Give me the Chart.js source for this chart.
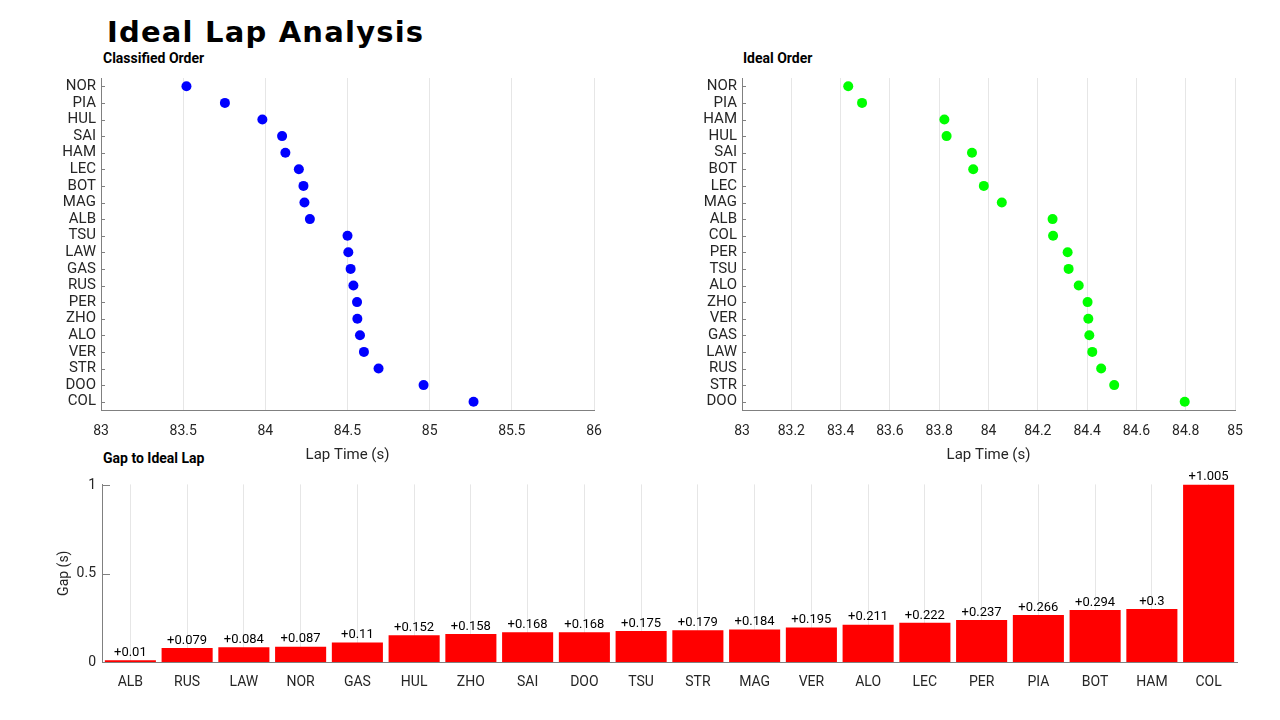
<!DOCTYPE html>
<html>
<head>
<meta charset="utf-8">
<script src="https://cdn.jsdelivr.net/npm/chart.js@4.4.0/dist/chart.umd.min.js"></script>
<style>
  body { margin: 0; width: 1280px; height: 720px; background: #fff; position: relative; overflow: hidden; font-family: Roboto, sans-serif; }
  canvas { position: absolute; }
  .title { position: absolute; left: 107px; top: 15px; font: bold 29px "DejaVu Sans"; letter-spacing: 1.2px; color: #000; }
  .sub { position: absolute; font: bold 14px Roboto; color: #000; line-height: 16px; }
</style>
</head>
<body>
<div class="title">Ideal Lap Analysis</div>
<div class="sub" style="left:103px; top:50px;">Classified Order</div>
<div class="sub" style="left:743px; top:50px;">Ideal Order</div>
<div class="sub" style="left:103px; top:450px;">Gap to Ideal Lap</div>

<canvas id="classified" width="640" height="406" style="left:0; top:64px;"></canvas>
<canvas id="ideal" width="640" height="406" style="left:640px; top:64px;"></canvas>
<canvas id="gap" width="1280" height="250" style="left:0; top:470px;"></canvas>

<script>
// classified order (lap time, s)
var classifiedDrivers = ['NOR', 'PIA', 'HUL', 'SAI', 'HAM', 'LEC', 'BOT', 'MAG', 'ALB', 'TSU',
                         'LAW', 'GAS', 'RUS', 'PER', 'ZHO', 'ALO', 'VER', 'STR', 'DOO', 'COL'];
var classifiedTimes = [83.520, 83.754, 83.982, 84.102, 84.122, 84.204, 84.232, 84.238, 84.271, 84.500,
                       84.505, 84.519, 84.536, 84.558, 84.560, 84.576, 84.600, 84.689, 84.963, 85.267];

// ideal order (ideal lap time, s)
var idealDrivers = ['NOR', 'PIA', 'HAM', 'HUL', 'SAI', 'BOT', 'LEC', 'MAG', 'ALB', 'COL',
                    'PER', 'TSU', 'ALO', 'ZHO', 'VER', 'GAS', 'LAW', 'RUS', 'STR', 'DOO'];
var idealTimes = [83.431, 83.487, 83.821, 83.830, 83.933, 83.938, 83.981, 84.054, 84.260, 84.262,
                  84.321, 84.325, 84.366, 84.402, 84.405, 84.409, 84.421, 84.457, 84.510, 84.796];

// gap to ideal lap (s)
var gapDrivers = ['ALB', 'RUS', 'LAW', 'NOR', 'GAS', 'HUL', 'ZHO', 'SAI', 'DOO', 'TSU',
                  'STR', 'MAG', 'VER', 'ALO', 'LEC', 'PER', 'PIA', 'BOT', 'HAM', 'COL'];
var gapValues = [0.01, 0.079, 0.084, 0.087, 0.11, 0.152, 0.158, 0.168, 0.168, 0.175,
                 0.179, 0.184, 0.195, 0.211, 0.222, 0.237, 0.266, 0.294, 0.3, 1.005];
var gapTicks = [0, 0.5, 1];

var axisColor = '#808080';
var gridColor = '#e6e6e6';
var textColor = '#262626';

// 83.0 -> 83, 1.0 -> 1
function shortNum(v) {
    return String(+(+v).toFixed(3));
}

// matlab style ticks pointing into the plot
var inwardTicks = {
    id: 'inwardTicks',
    afterDraw: function (chart, args, opts) {
        var ctx = chart.ctx;
        var s = chart.scales.y;
        ctx.save();
        ctx.strokeStyle = axisColor;
        ctx.lineWidth = 1;
        s.ticks.forEach(function (t, i) {
            var p = Math.round(s.getPixelForTick(i)) + 0.5;
            ctx.beginPath();
            ctx.moveTo(s.right, p);
            ctx.lineTo(s.right + (opts.len || 4), p);
            ctx.stroke();
        });
        ctx.restore();
    }
};

// "+0.123" labels on top of the bars
var barLabels = {
    id: 'barLabels',
    afterDatasetsDraw: function (chart) {
        var ctx = chart.ctx;
        var meta = chart.getDatasetMeta(0);
        ctx.save();
        ctx.fillStyle = '#000';
        ctx.font = '13px Roboto';
        ctx.textAlign = 'center';
        ctx.textBaseline = 'bottom';
        meta.data.forEach(function (bar, i) {
            ctx.fillText('+' + gapValues[i], bar.x, bar.y - 1);
        });
        ctx.restore();
    }
};

function dotChart(id, labels, values, color, xmin, xmax, step, yWidth, padRight) {
    return new Chart(document.getElementById(id), {
        type: 'line',
        data: {
            labels: labels,
            datasets: [{
                data: values,
                showLine: false,
                pointRadius: 5,
                pointHoverRadius: 5,
                pointBorderWidth: 0,
                pointBackgroundColor: color
            }]
        },
        options: {
            indexAxis: 'y',
            responsive: false,
            animation: false,
            layout: { padding: { top: 1, right: padRight, left: 0, bottom: 0 } },
            plugins: {
                legend: { display: false },
                tooltip: { enabled: false },
                inwardTicks: { len: 4 }
            },
            scales: {
                x: {
                    type: 'linear',
                    min: xmin,
                    max: xmax,
                    ticks: { stepSize: step, color: textColor, font: { family: 'Roboto', size: 14 }, padding: 13, callback: shortNum },
                    grid: { color: gridColor, drawTicks: false },
                    border: { color: axisColor },
                    title: { display: true, text: 'Lap Time (s)', color: textColor, font: { family: 'Roboto', size: 15 }, padding: { top: 4, bottom: 6 } },
                    afterFit: function (s) { s.height = 60; }
                },
                y: {
                    type: 'category',
                    offset: true,
                    grid: { display: false, drawTicks: false },
                    border: { color: axisColor },
                    ticks: { color: textColor, font: { family: 'Roboto', size: 15 }, padding: 5, autoSkip: false },
                    afterFit: function (s) { s.width = yWidth; }
                }
            }
        },
        plugins: [inwardTicks]
    });
}

dotChart('classified', classifiedDrivers, classifiedTimes, '#0000ff', 83, 86, 0.5, 101, 46);
dotChart('ideal', idealDrivers, idealTimes, '#00ff00', 83, 85, 0.2, 102, 45);

new Chart(document.getElementById('gap'), {
    type: 'bar',
    data: {
        labels: gapDrivers,
        datasets: [{
            data: gapValues,
            backgroundColor: '#ff0000',
            borderWidth: 0,
            categoryPercentage: 1,
            barPercentage: 0.9
        }]
    },
    options: {
        responsive: false,
        animation: false,
        layout: { padding: { top: 13, right: 43, left: 56, bottom: 0 } },
        plugins: {
            legend: { display: false },
            tooltip: { enabled: false },
            inwardTicks: { len: 8 }
        },
        scales: {
            x: {
                grid: { color: gridColor, offset: false, drawTicks: false },
                border: { color: axisColor },
                ticks: { color: textColor, font: { family: 'Roboto', size: 14 }, padding: 12 },
                afterFit: function (s) { s.height = 58; }
            },
            y: {
                min: 0,
                max: 1.005,
                afterBuildTicks: function (s) { s.ticks = gapTicks.map(function (v) { return { value: v }; }); },
                grid: { display: false, drawTicks: false },
                border: { color: axisColor },
                ticks: { color: textColor, font: { family: 'Roboto', size: 14 }, padding: 6, callback: shortNum },
                title: { display: true, text: 'Gap (s)', color: textColor, font: { family: 'Roboto', size: 14 }, padding: { top: 0, bottom: 0 } },
                afterFit: function (s) { s.width = 46; }
            }
        }
    },
    plugins: [inwardTicks, barLabels]
});
</script>
</body>
</html>
